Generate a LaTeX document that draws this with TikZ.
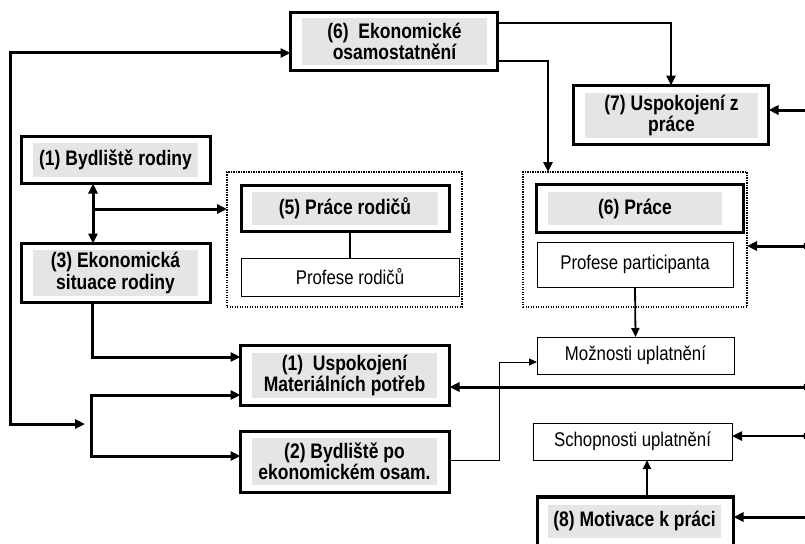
\documentclass[tikz,border=0pt]{standalone}
\usepackage{fontspec}
\setmainfont{Liberation Sans}
\usetikzlibrary{arrows.meta,calc}
\definecolor{boxgray}{RGB}{229,229,229}
\tikzset{
  every node/.style={inner sep=0pt, outer sep=0pt},
  boldframe/.style={draw, line width=3.2pt, fill=white},
  % text is set slightly tall: the label is stretched vertically by 1.2
  graylabel/.style={fill=boxgray, align=center, yscale=1.2,
    font=\fontsize{17.5}{17.8}\selectfont\bfseries},
  gh/.style={minimum height={#1pt/1.2}},
  thinbox/.style={draw, line width=0.9pt, fill=white},
  thintext/.style={yscale=1.18, font=\fontsize{16.8}{18}\selectfont},
  dotgroup/.style={draw, line width=1.4pt, dash pattern=on 1.3pt off 1.2pt},
  >={Triangle[length=10pt,width=9pt]},
  thickline/.style={line width=3pt},
  midline/.style={line width=1.8pt, -{Triangle[length=9pt,width=8pt]}},
  thinlink/.style={line width=1pt, -{Triangle[length=8pt,width=7pt]}},
}
\begin{document}
\begin{tikzpicture}[x=1pt,y=-1pt]
\useasboundingbox (0,0) rectangle (805,543);
\clip (0,0) rectangle (805,543);

% dotted groups
\node[dotgroup, minimum width=235pt, minimum height=135pt] (d5) at (344.5,239.5) {};
\node[dotgroup, minimum width=224pt, minimum height=135pt] (d6) at (635,239.5) {};

% (6) Ekonomicke osamostatneni
\node[boldframe, minimum width=207pt, minimum height=58pt] (e6) at (394,41.5) {};
\node[graylabel, minimum width=185pt, gh=47] (e6t) at (394.5,41.5) {(6)\ \ Ekonomické\\osamostatnění};

% (7) Uspokojeni z prace
\node[boldframe, minimum width=195pt, minimum height=59pt] (u7) at (671,115) {};
\node[graylabel, minimum width=173pt, gh=45] (u7t) at (671.5,115.5) {(7) Uspokojení z\\práce};

% (1) Bydliste rodiny
\node[boldframe, minimum width=189pt, minimum height=47pt] (b1) at (116,160) {};
\node[graylabel, minimum width=165pt, gh=34] (b1t) at (115.5,160) {(1) Bydliště rodiny};

% (3) Ekonomicka situace rodiny
\node[boldframe, minimum width=189pt, minimum height=59pt] (s3) at (116,273) {};
\node[graylabel, minimum width=165pt, gh=46] (s3t) at (115.5,273) {(3) Ekonomická\\situace rodiny};

% (5) Prace rodicu
\node[boldframe, line width=3.8pt, minimum width=208pt, minimum height=46pt] (p5) at (345.5,208.5) {};
\node[graylabel, minimum width=186pt, gh=33] (p5t) at (345,208.5) {(5) Práce rodičů};
\node[thinbox, minimum width=218pt, minimum height=38pt] (pr) at (350,277) {};
\node[thintext] (prt) at (pr.center) {Profese rodičů};

% (6) Prace
\node[boldframe, line width=3.8pt, minimum width=207pt, minimum height=48pt] (p6) at (640,208.5) {};
\node[graylabel, minimum width=174pt, gh=33] (p6t) at (635,208.5) {(6) Práce};
\node[thinbox, minimum width=196pt, minimum height=45pt] (pp) at (635,264.5) {};
\node[thintext] (ppt) at (pp.center) {Profese participanta};

% lower right boxes
\node[thinbox, minimum width=197pt, minimum height=37pt] (mu) at (635.5,355.5) {};
\node[thintext] (mut) at (mu.center) {Možnosti uplatnění};
\node[thinbox, minimum width=199pt, minimum height=37pt] (su) at (632.5,441.5) {};
\node[thintext] (sut) at (su.center) {Schopnosti uplatnění};
\node[boldframe, minimum width=196pt, minimum height=50pt] (m8) at (635.5,522) {};
\node[graylabel, minimum width=173pt, gh=33] (m8t) at (634.5,521) {(8) Motivace k práci};

% (1) Uspokojeni materialnich potreb, (2) Bydliste po ek. osam.
\node[boldframe, minimum width=209pt, minimum height=60pt] (u1) at (345,375.5) {};
\node[graylabel, minimum width=185pt, gh=45] (u1t) at (344.5,375.5) {(1)\ \ Uspokojení\\Materiálních potřeb};
\node[boldframe, minimum width=209pt, minimum height=61pt] (b2) at (345,462) {};
\node[graylabel, minimum width=185pt, gh=47] (b2t) at (344.5,461.5) {(2) Bydliště po\\ekonomickém osam.};

% junctions and incoming ends
\coordinate (loopin) at (85,424);
\coordinate (jb) at (91,424);
\coordinate (jx) at (93,209);
\coordinate (r7) at (807,110);
\coordinate (r6) at (807,246);
\coordinate (r1) at (807,387);
\coordinate (rs) at (807,436);
\coordinate (r8) at (807,517);

% left feedback loop
\draw[thickline,<->] ([yshift=-11.5pt]e6.west) -| (10,424) -- (loopin);

% family block
\draw[thickline,<->] ([xshift=-23pt]b1.south) -- ([xshift=-23pt]s3.north);
\draw[thickline,->] (jx) -- (jx -| d5.west);
\draw[line width=1.4pt] (pr.north) -- (pr.north |- p5.south);
\draw[thickline,->] ([xshift=-24pt]s3.south) |- ([yshift=18.5pt]u1.west);
\draw[thickline,->] (jb) |- ([yshift=-19.5pt]u1.west);
\draw[thickline,->] (jb) |- ([yshift=6pt]b2.west);

% economic independence
\draw[line width=2.6pt,->] ([yshift=18.5pt]e6.east) -| (u7.north);
\draw[line width=2.6pt,->] ([yshift=-19.5pt]e6.east) -| ([xshift=25pt]d6.north west);

% work block
\draw[midline] (pp.south) -- (mu.north);
\draw[thinlink] ([yshift=2pt]b2.east) -- ++(49.5,0) |- ([yshift=-6.5pt]mu.west);
\draw[midline] ([xshift=14.5pt]su.south |- m8.north) -- ([xshift=14.5pt]su.south);

% inputs from the right
\draw[thickline,->] (r7) -- (r7 -| u7.east);
\draw[thickline,->] (r6) -- (r6 -| d6.east);
\draw[thickline,->] (r1) -- (r1 -| u1.east);
\draw[line width=2.4pt,->] (rs) -- (rs -| su.east);
\draw[thickline,->] (r8) -- (r8 -| m8.east);
\fill (r6) circle (4);
\fill (r1) circle (4);
\fill (rs) circle (4);
\end{tikzpicture}
\end{document}
